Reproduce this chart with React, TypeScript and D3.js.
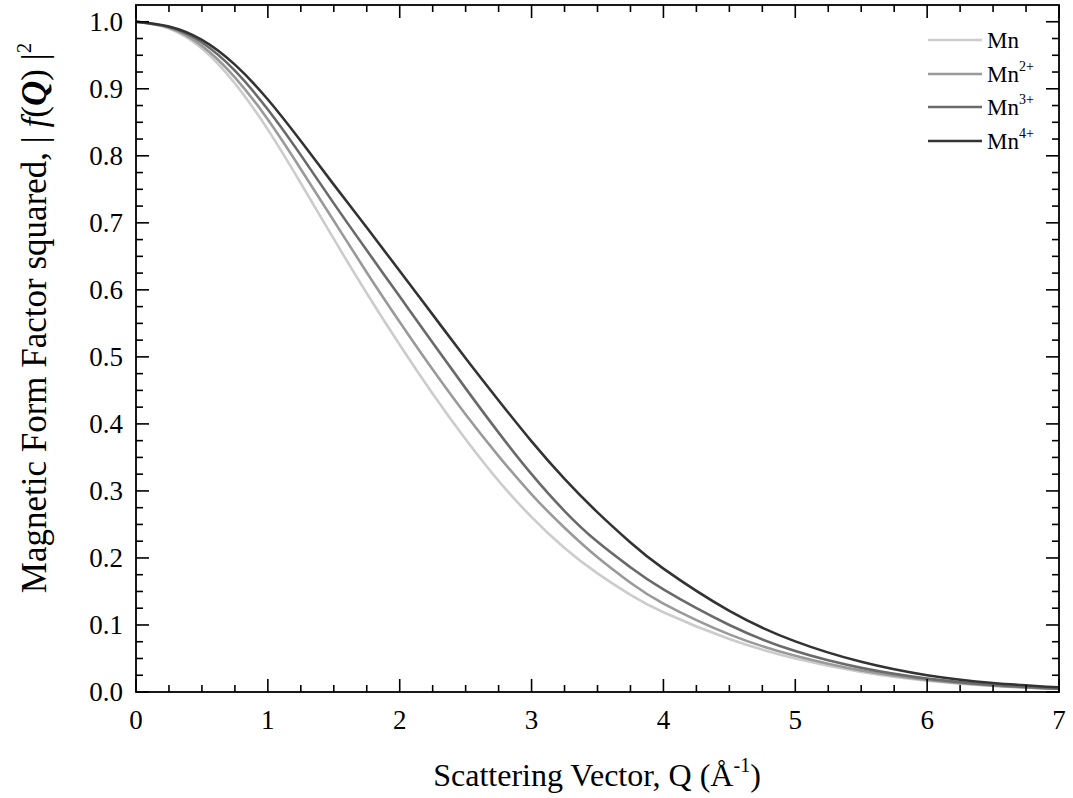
import React from "react";
import * as d3 from "d3";

const Q = [0, 0.25, 0.5, 0.75, 1, 1.25, 1.5, 1.75, 2, 2.25, 2.5, 2.75, 3, 3.25, 3.5, 3.75, 4, 4.5, 5, 5.5, 6, 6.5, 7];
const mn0 = [1.0, 0.99, 0.96, 0.908, 0.839, 0.759, 0.676, 0.595, 0.518, 0.445, 0.377, 0.315, 0.261, 0.215, 0.177, 0.145, 0.119, 0.079, 0.05, 0.03, 0.017, 0.009, 0.0045];
const mn2 = [1.0, 0.991, 0.964, 0.917, 0.854, 0.78, 0.703, 0.626, 0.552, 0.481, 0.414, 0.352, 0.295, 0.245, 0.201, 0.163, 0.132, 0.086, 0.054, 0.032, 0.018, 0.0095, 0.0048];
const mn3 = [1.0, 0.992, 0.969, 0.927, 0.869, 0.801, 0.729, 0.659, 0.59, 0.521, 0.453, 0.387, 0.325, 0.27, 0.224, 0.186, 0.153, 0.1, 0.061, 0.036, 0.02, 0.0105, 0.005];
const mn4 = [1.0, 0.993, 0.973, 0.936, 0.884, 0.822, 0.757, 0.693, 0.628, 0.563, 0.498, 0.435, 0.374, 0.318, 0.268, 0.223, 0.184, 0.121, 0.0755, 0.045, 0.025, 0.0134, 0.007];

const seriesNames = ["Mn", "Mn", "Mn", "Mn"];
const seriesSup = ["", "2+", "3+", "4+"];
const seriesColors = ["#cccccc", "#9a9a9a", "#6a6a6a", "#333333"];
const seriesValues = [mn0, mn2, mn3, mn4];

const xTicks = [0, 1, 2, 3, 4, 5, 6, 7];
const yTicks = [0, 0.1, 0.2, 0.3, 0.4, 0.5, 0.6, 0.7, 0.8, 0.9, 1.0];

const W = 1073, H = 798;
const L = 136, R = 1059, T = 5, B = 692;
const FONT = "'Liberation Serif', 'Times New Roman', serif";

export default function App() {
  const x = d3.scaleLinear().domain([0, 7]).range([L, R]);
  const y = d3.scaleLinear().domain([0, 1.025]).range([B, T]);
  const line = d3.line<number>().x((_, i) => x(Q[i])).y((d) => y(d)).curve(d3.curveNatural);

  const xMinor = d3.range(0, 7.0001, 0.25).filter((v) => Math.abs(v - Math.round(v)) > 1e-6);
  const yMinor = d3.range(0, 1.0001, 0.025).filter((v) => Math.abs(v * 10 - Math.round(v * 10)) > 1e-6);

  const legendY = [40, 74, 107, 141];

  return (
    <svg width={W} height={H} style={{ position: "absolute", left: 0, top: 0, background: "#fff" }} fontFamily={FONT}>
      <rect x={0} y={0} width={W} height={H} fill="#fff" />
      <defs>
        <clipPath id="plot">
          <rect x={L} y={T} width={R - L} height={B - T} />
        </clipPath>
      </defs>
      <g clipPath="url(#plot)">
        {seriesValues.map((vals, i) => (
          <path key={i} d={line(vals) || ""} fill="none" stroke={seriesColors[i]} strokeWidth={2.6} />
        ))}
      </g>
      <g stroke="#000" strokeWidth={1.6}>
        {xTicks.map((t) => (
          <g key={"xt" + t}>
            <line x1={x(t)} x2={x(t)} y1={B} y2={B - 13} />
            <line x1={x(t)} x2={x(t)} y1={T} y2={T + 13} />
          </g>
        ))}
        {xMinor.map((t) => (
          <g key={"xm" + t}>
            <line x1={x(t)} x2={x(t)} y1={B} y2={B - 7} />
            <line x1={x(t)} x2={x(t)} y1={T} y2={T + 7} />
          </g>
        ))}
        {yTicks.map((t) => (
          <g key={"yt" + t}>
            <line x1={L} x2={L + 13} y1={y(t)} y2={y(t)} />
            <line x1={R} x2={R - 13} y1={y(t)} y2={y(t)} />
          </g>
        ))}
        {yMinor.map((t) => (
          <g key={"ym" + t}>
            <line x1={L} x2={L + 7} y1={y(t)} y2={y(t)} />
            <line x1={R} x2={R - 7} y1={y(t)} y2={y(t)} />
          </g>
        ))}
      </g>
      <rect x={L} y={T} width={R - L} height={B - T} fill="none" stroke="#000" strokeWidth={1.8} />
      <g fontSize={27} fill="#000">
        {xTicks.map((t) => (
          <text key={"xl" + t} x={x(t)} y={B + 37} textAnchor="middle">{t}</text>
        ))}
        {yTicks.map((t) => (
          <text key={"yl" + t} x={L - 13} y={y(t) + 9} textAnchor="end">{t.toFixed(1)}</text>
        ))}
      </g>
      <g fontSize={23} fill="#000">
        {seriesNames.map((n, i) => (
          <g key={"lg" + i}>
            <line x1={928} x2={982} y1={legendY[i]} y2={legendY[i]} stroke={seriesColors[i]} strokeWidth={2.6} />
            <text x={987} y={legendY[i] + 8}>
              {n}
              {seriesSup[i] ? <tspan fontSize={14} dy={-11}>{seriesSup[i]}</tspan> : null}
            </text>
          </g>
        ))}
      </g>
      <text x={597} y={786} textAnchor="middle" fontSize={32} fill="#000">
        Scattering Vector, Q (Å<tspan fontSize={20} dy={-14}>-1</tspan><tspan dy={14}>)</tspan>
      </text>
      <text transform={`translate(46, 318) rotate(-90)`} textAnchor="middle" fontSize={35} fill="#000">
        Magnetic Form Factor squared, | <tspan fontStyle="italic">f</tspan>(<tspan fontStyle="italic" fontWeight="bold">Q</tspan>) |<tspan fontSize={21} dy={-15}>2</tspan>
      </text>
    </svg>
  );
}
